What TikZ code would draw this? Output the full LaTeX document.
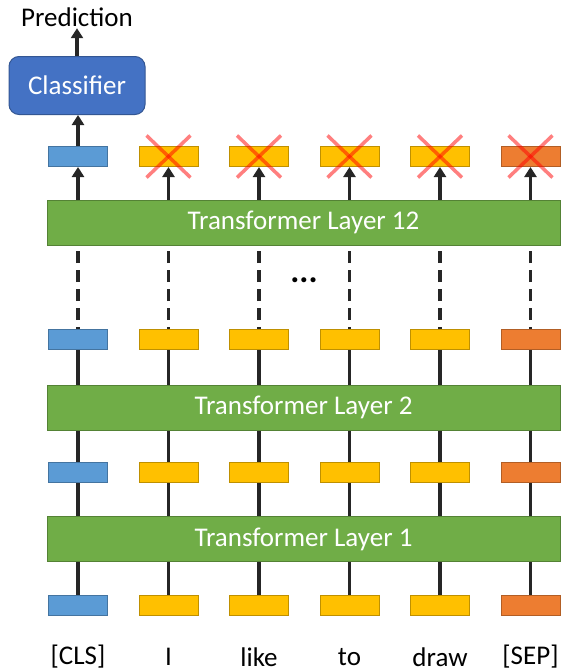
\documentclass[tikz,border=0pt]{standalone}
\usepackage{fontspec}
\setmainfont{Carlito}
\usetikzlibrary{arrows.meta}
\definecolor{tokblue}{HTML}{5B9BD5}
\definecolor{tokyellow}{HTML}{FFC000}
\definecolor{tokorange}{HTML}{ED7D31}
\definecolor{layergreen}{HTML}{70AD47}
\definecolor{clsblue}{HTML}{4472C4}
\definecolor{wire}{HTML}{262626}

\begin{document}
\begin{tikzpicture}[x=1pt,y=-1pt,line width=3.5pt,
    tok/.style={draw=#1!75!black, fill=#1, line width=1pt, minimum width=59pt, minimum height=20pt, inner sep=0pt},
    layer/.style={draw=layergreen!75!black, fill=layergreen, line width=1pt, minimum width=513pt, minimum height=45pt, text=white, font=\fontsize{27}{32}\selectfont},
    wirestyle/.style={draw=wire, line width=3.5pt},
    uparrow/.style={wirestyle, -{Triangle[width=12pt,length=10pt]}},
    crossline/.style={draw=red, line width=3.5pt, opacity=.5},
    word/.style={font=\fontsize{27}{32}\selectfont}]
  \useasboundingbox (0,0) rectangle (565,672);

  % transformer layers
  \node[layer] (l1) at (303.5,539) {Transformer Layer 1};
  \node[layer] (l2) at (303.5,407.5) {Transformer Layer 2};
  \node[layer] (l12) at (303.5,222.5) {Transformer Layer 12};

  % classifier head
  \node[draw=clsblue!75!black, fill=clsblue, line width=1pt, rounded corners=10pt, minimum width=136pt, minimum height=58pt, text=white, font=\fontsize{27}{32}\selectfont] (clf) at (77,85.5) {Classifier};
  \node[word, inner sep=0pt] (pred) at (77,17) {Prediction};

  \node[font=\fontsize{34}{40}\selectfont] (dots) at (304,280) {\textbf{...}};

  \foreach \i/\x/\c/\w in {1/78/tokblue/{[CLS]},2/168.5/tokyellow/I,3/259/tokyellow/like,4/349.5/tokyellow/to,5/440/tokyellow/draw,6/530.5/tokorange/{[SEP]}}{
    % wires first, boxes on top
    \coordinate (c0-\i) at (\x,605);
    \coordinate (c1-\i) at (\x,472);
    \coordinate (c2-\i) at (\x,339);
    \draw[wirestyle] (c0-\i) -- (c0-\i |- l1.south);
    \draw[wirestyle] (c1-\i) -- (c1-\i |- l1.north);
    \draw[wirestyle] (c1-\i) -- (c1-\i |- l2.south);
    \draw[wirestyle] (c2-\i) -- (c2-\i |- l2.north);
    \draw[wirestyle, dash pattern=on 12pt off 7pt] (c2-\i) -- (c2-\i |- l12.south);

    \node[tok=\c] (t0-\i) at (c0-\i) {};
    \node[tok=\c] (t1-\i) at (c1-\i) {};
    \node[tok=\c] (t2-\i) at (c2-\i) {};
    \node[tok=\c] (t3-\i) at (\x,156.5) {};
    \draw[uparrow] (t3-\i |- l12.north) -- (t3-\i.south);

    \node[word] (w-\i) at (\x,657) {\w};
  }

  % dropped outputs
  \foreach \i in {2,...,6}{
    \draw[crossline] ([shift={(-22pt,21pt)}]t3-\i.center) -- ([shift={(22pt,-21pt)}]t3-\i.center);
    \draw[crossline] ([shift={(-22pt,-21pt)}]t3-\i.center) -- ([shift={(22pt,21pt)}]t3-\i.center);
  }

  \draw[uparrow] (t3-1.north) -- (t3-1.north |- clf.south);
  \draw[uparrow] (clf.north) -- (pred.south);
\end{tikzpicture}
\end{document}
